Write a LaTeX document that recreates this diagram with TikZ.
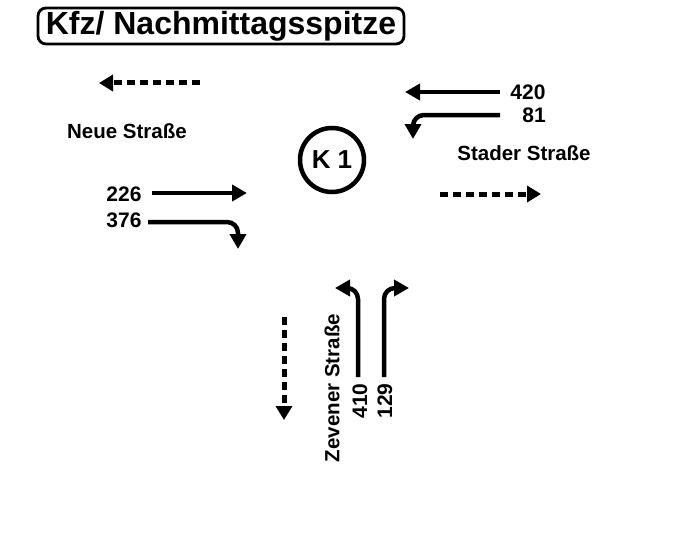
\documentclass[tikz,border=0pt]{standalone}
\usepackage{fontspec}
\setmainfont{Liberation Sans}
\usepackage{tikz}
\usetikzlibrary{positioning,arrows.meta}

\begin{document}
\begin{tikzpicture}[x=1pt,y=-1pt,
  flow/.style={line width=4.5pt, -{Triangle[length=15pt,width=16pt]}},
  leave/.style={line width=5pt, dash pattern=on 8pt off 5pt, -{Triangle[length=14pt,width=16pt]}},
  lbl/.style={font=\bfseries\fontsize{20.5}{22}\selectfont, inner sep=0pt},
  num/.style={font=\bfseries\fontsize{21}{23}\selectfont, inner sep=0pt}]
\useasboundingbox (0,0) rectangle (683,551);

% Titel
\node[draw, line width=2.8pt, rounded corners=8pt, minimum width=366pt, minimum height=36pt,
      inner sep=0pt, font=\bfseries\fontsize{32}{34}\selectfont] (titel) at (221,26) {Kfz/ Nachmittagsspitze};

% Knoten
\node[draw, circle, line width=4.5pt, minimum size=64pt, inner sep=0pt,
      font=\bfseries\fontsize{26}{28}\selectfont] (k1) at (332,160) {K 1};

% Neue Strasse
\node[lbl] (neue) at (127,131) {Neue Straße};
\coordinate (nw1) at (200,83);  \coordinate (nw2) at (99,83);
\draw[leave] (nw1) -- (nw2);
\node[num] (n226) at (124,194) {226};
\node[num] (n376) at (124,220) {376};
\coordinate (g1) at (152,193);  \coordinate (g2) at (247,193);
\draw[flow] (g1) -- (g2);
\coordinate (r1) at (148,222);  \coordinate (r2) at (238,222);  \coordinate (r3) at (238,249);
\draw[flow, rounded corners=11pt] (r1) -- (r2) -- (r3);

% Stader Strasse
\node[lbl] (stader) at (524,153) {Stader Straße};
\coordinate (so1) at (440,194); \coordinate (so2) at (541,194);
\draw[leave] (so1) -- (so2);
\node[num] (n420) at (528,92) {420};
\node[num] (n81)  at (534,115) {81};
\coordinate (s1) at (500,92);   \coordinate (s2) at (405,92);
\draw[flow] (s1) -- (s2);
\coordinate (l1) at (500,115);  \coordinate (l2) at (413,115);  \coordinate (l3) at (413,139);
\draw[flow, rounded corners=11pt] (l1) -- (l2) -- (l3);

% Zevener Strasse
\node[lbl, rotate=90] (zevener) at (332,388) {Zevener Straße};
\coordinate (zs1) at (284,317); \coordinate (zs2) at (284,420);
\draw[leave] (zs1) -- (zs2);
\node[num, rotate=90] (n410) at (360,401) {410};
\node[num, rotate=90] (n129) at (385,401) {129};
\coordinate (a1) at (358,377);  \coordinate (a2) at (358,288);  \coordinate (a3) at (335,288);
\draw[flow, rounded corners=11pt] (a1) -- (a2) -- (a3);
\coordinate (b1) at (384,377);  \coordinate (b2) at (384,288);  \coordinate (b3) at (409,288);
\draw[flow, rounded corners=11pt] (b1) -- (b2) -- (b3);

\end{tikzpicture}
\end{document}
